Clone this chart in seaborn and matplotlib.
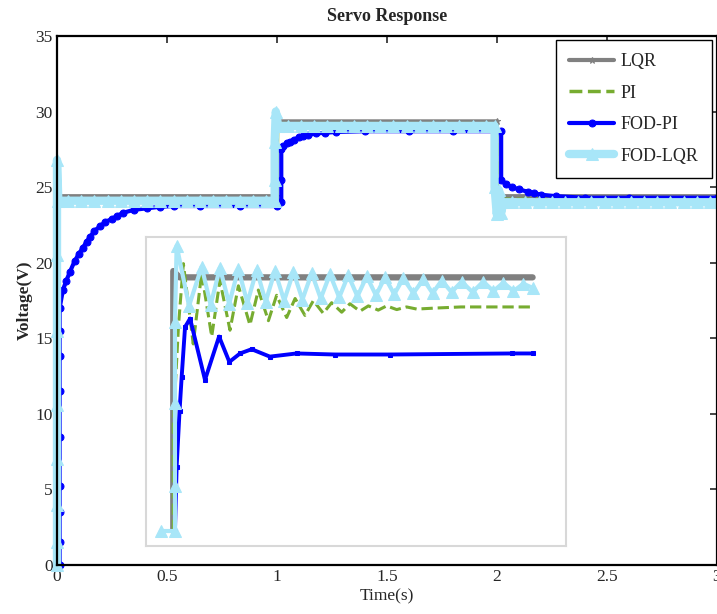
import numpy as np
import pandas as pd
import matplotlib
matplotlib.use("Agg")
import matplotlib.pyplot as plt
import seaborn as sns

# --- main plot data: time (s) / voltage (V) ---
lqr_t = [0.000, 0.000, 0.000, 0.000, 0.000, 0.000, 0.004, 1.000, 1.000, 1.004, 2.000, 2.000, 2.004, 3.000]
lqr_v = [0.0, 3.0, 6.5, 11.5, 16.0, 24.6, 24.4, 24.4, 29.6, 29.35, 29.35, 23.9, 24.4, 24.4]

pi_t = [0.000, 0.004, 0.010, 1.000, 1.004, 1.010, 2.000, 2.004, 2.010, 3.000]
pi_v = [0.0, 25.0, 24.2, 24.2, 29.8, 29.2, 29.2, 23.6, 24.2, 24.2]

fodpi_t = [0.012, 0.012, 0.012, 0.012, 0.012, 0.012, 0.012, 0.012, 0.012, 0.027, 0.042,
           0.059, 0.080, 0.100, 0.118, 0.135, 0.150, 0.170, 0.195, 0.220, 0.250, 0.275,
           0.300, 0.350, 0.410, 0.470, 0.530, 0.650, 0.830, 1.000, 1.020, 1.020, 1.020,
           1.030, 1.045, 1.060, 1.080, 1.100, 1.120, 1.140, 1.180, 1.220, 1.270, 1.400,
           1.600, 1.800, 2.000, 2.020, 2.020, 2.040, 2.070, 2.100, 2.140, 2.170, 2.200,
           2.270, 2.400, 2.600, 3.000]
fodpi_v = [0.0, 1.5, 3.5, 5.2, 8.5, 11.5, 13.8, 15.5, 17.0, 18.2, 18.8,
           19.4, 20.1, 20.6, 21.0, 21.4, 21.7, 22.1, 22.4, 22.7, 22.9, 23.1,
           23.3, 23.5, 23.6, 23.7, 23.75, 23.75, 23.75, 23.75, 24.0, 25.5, 27.5,
           27.7, 27.9, 28.0, 28.15, 28.3, 28.4, 28.45, 28.55, 28.6, 28.65, 28.7,
           28.7, 28.7, 28.7, 28.7, 25.5, 25.2, 25.0, 24.85, 24.7, 24.6, 24.5,
           24.4, 24.3, 24.3, 24.3]

fodlqr_t = [0.000, 0.000, 0.000, 0.000, 0.000, 0.000, 0.000, 0.000, 0.006,
            0.050, 0.110, 0.170, 0.230, 0.290, 0.350, 0.410, 0.470, 0.530, 0.590,
            0.650, 0.710, 0.770, 0.830, 0.890, 0.950, 0.990,
            0.990, 0.990, 0.995, 1.006, 1.050, 1.110, 1.170, 1.230, 1.290, 1.350,
            1.410, 1.470, 1.530, 1.590, 1.650, 1.710, 1.770, 1.830, 1.890, 1.950,
            1.990, 1.990, 2.000, 2.010, 2.020, 2.030, 2.070, 2.130, 2.190, 2.250,
            2.310, 2.370, 2.430, 2.490, 2.550, 2.610, 2.670, 2.730, 2.790, 2.850,
            2.910, 2.970, 3.000]
fodlqr_v = [0.0, 1.5, 4.0, 7.0, 10.6, 15.5, 20.5, 26.8, 24.1,
            24.1, 24.1, 24.1, 24.1, 24.1, 24.1, 24.1, 24.1, 24.1, 24.1,
            24.1, 24.1, 24.1, 24.1, 24.1, 24.1, 24.1,
            25.5, 28.0, 30.0, 29.05, 29.05, 29.05, 29.05, 29.05, 29.05, 29.05,
            29.05, 29.05, 29.05, 29.05, 29.05, 29.05, 29.05, 29.05, 29.05, 29.05,
            29.05, 25.0, 23.2, 24.8, 23.3, 24.0, 24.0, 24.0, 24.0, 24.0,
            24.0, 24.0, 24.0, 24.0, 24.0, 24.0, 24.0, 24.0, 24.0, 24.0,
            24.0, 24.0, 24.0]

# --- inset data: time (ms) / voltage (V) ---
in_lqr_t = [13.0, 13.0, 13.0, 13.0, 13.0, 13.0, 16.0, 184.1]
in_lqr_v = [0.0, 5.0, 10.0, 15.0, 20.0, 24.6, 24.0, 24.0]

in_pi_t = [13.0, 13.0, 15.5, 17.8, 22.5, 26.5, 31.3, 35.2, 40.0, 44.0, 49.5, 53.5,
           58.3, 62.2, 67.0, 71.0, 75.7, 79.7, 84.4, 88.4, 93.2, 97.1, 101.9, 105.9,
           110.6, 114.6, 119.4, 124.1, 128.9, 138.4, 150.0, 184.1]
in_pi_v = [0.0, 10.0, 19.5, 25.3, 17.7, 24.4, 18.4, 23.7, 19.0, 23.2, 19.5, 22.8,
           19.9, 22.3, 20.2, 22.0, 20.4, 21.8, 20.6, 21.6, 20.7, 21.5, 20.8, 21.3,
           20.9, 21.3, 20.95, 21.2, 21.0, 21.1, 21.2, 21.2]

in_fodpi_t = [13.8, 14.6, 16.0, 17.0, 18.6, 21.0, 28.1, 34.8, 39.7, 44.8, 50.3, 59.0,
              71.7, 90.0, 116.2, 174.1, 184.1]
in_fodpi_v = [0.0, 6.1, 11.4, 14.6, 19.3, 20.1, 14.3, 18.4, 16.0, 16.8, 17.2, 16.5,
              16.8, 16.7, 16.7, 16.8, 16.8]

in_fodlqr_t = [7.1, 13.8, 13.8, 13.8, 13.8, 14.6, 20.5, 26.5, 30.8, 35.2, 39.6, 44.0,
               48.3, 52.7, 57.0, 61.4, 65.8, 70.2, 74.5, 78.9, 83.2, 87.6, 92.0, 96.3,
               100.7, 105.1, 109.5, 113.8, 118.2, 122.5, 127.3, 132.1, 136.5, 140.8,
               145.5, 150.3, 155.5, 160.6, 165.4, 170.2, 175.0, 179.7, 184.1]
in_fodlqr_v = [0.0, 0.0, 4.3, 12.1, 19.8, 27.0, 21.3, 25.0, 21.4, 24.9, 21.5, 24.8,
               21.6, 24.7, 21.7, 24.6, 21.8, 24.5, 21.9, 24.4, 22.0, 24.3, 22.1, 24.2,
               22.2, 24.1, 22.3, 24.0, 22.4, 23.9, 22.5, 23.8, 22.5, 23.7,
               22.6, 23.6, 22.6, 23.6, 22.7, 23.5, 22.7, 23.4, 23.0]

labels = ['LQR', 'PI', 'FOD-PI', 'FOD-LQR']
colors = ['#808080', '#77AC30', '#0000FF', '#A8E6F8']

sns.set_style('white')
plt.rcParams['font.family'] = ['Liberation Serif', 'DejaVu Serif']
plt.rcParams['font.size'] = 12.5

fig = plt.figure(figsize=(7.17, 6.14), dpi=100)
ax = fig.add_axes([0.0795, 0.0798, 0.920, 0.8616])

series = [(lqr_t, lqr_v), (pi_t, pi_v), (fodpi_t, fodpi_v), (fodlqr_t, fodlqr_v)]
styles = [dict(lw=3, marker='*', ms=5, ls='-'),
          dict(lw=2.5, marker=None, ls='--'),
          dict(lw=3, marker='.', ms=10, ls='-'),
          dict(lw=6, marker='^', ms=9, ls='-')]

for (t, v), lab, col, st in zip(series, labels, colors, styles):
    df = pd.DataFrame({'t': t, 'v': v})
    sns.lineplot(data=df, x='t', y='v', ax=ax, color=col, label=lab, legend=False,
                 sort=False, estimator=None, markeredgecolor=col, clip_on=False,
                 **st)

ax.set_xlim(0, 3)
ax.set_ylim(0, 35)
ax.set_xticks(np.arange(0, 3.01, 0.5))
ax.set_xticklabels(['0', '0.5', '1', '1.5', '2', '2.5', '3'])
ax.set_yticks(np.arange(0, 36, 5))
ax.tick_params(direction='in', top=True, right=True, length=5, width=1.2,
               labelsize=12.5, pad=3)
for s in ax.spines.values():
    s.set_color('black')
    s.set_linewidth(1.6)
ax.set_xlabel('Time(s)', fontsize=12.5, labelpad=2)
ax.set_ylabel('Voltage(V)', fontsize=12.5, fontweight='bold', labelpad=2)
ax.set_title('Servo Response', fontsize=13, fontweight='bold', pad=11)

leg = ax.legend(loc='upper right', bbox_to_anchor=(0.993, 0.993), borderaxespad=0,
                fontsize=13, handlelength=2.5, handletextpad=0.35, labelspacing=0.8,
                fancybox=False, framealpha=1, edgecolor='black', borderpad=0.75)
leg.get_frame().set_linewidth(1.0)

# inset
ins = fig.add_axes([0.2036, 0.1107, 0.5858, 0.503])
in_series = [(in_lqr_t, in_lqr_v), (in_pi_t, in_pi_v), (in_fodpi_t, in_fodpi_v),
             (in_fodlqr_t, in_fodlqr_v)]
in_styles = [dict(lw=4.5, marker=None, ls='-'),
             dict(lw=2.2, marker=None, ls='--'),
             dict(lw=2.8, marker='s', ms=3, ls='-'),
             dict(lw=3, marker='^', ms=8, ls='-')]
for (t, v), col, st in zip(in_series, colors, in_styles):
    df = pd.DataFrame({'t': t, 'v': v})
    sns.lineplot(data=df, x='t', y='v', ax=ins, color=col, legend=False,
                 sort=False, estimator=None, markeredgecolor=col, **st)
ins.set_xlim(0, 200)
ins.set_ylim(-1.42, 27.8)
ins.set_xticks([])
ins.set_yticks([])
ins.set_xlabel('')
ins.set_ylabel('')
for s in ins.spines.values():
    s.set_color('#D8D8D8')
    s.set_linewidth(1.5)

fig.savefig('out.png', dpi=100)
